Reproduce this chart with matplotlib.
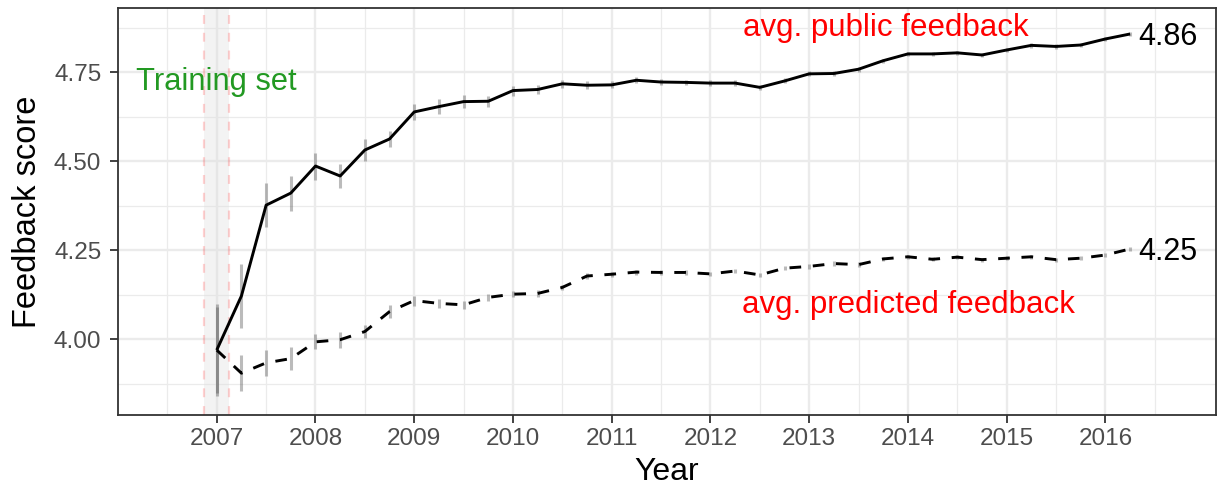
import numpy as np
import matplotlib
matplotlib.use("Agg")
import matplotlib.pyplot as plt

plt.rcParams['font.family'] = ['Liberation Sans', 'DejaVu Sans']

# quarterly time points 2007.00 .. 2016.25
years = [2007.0 + 0.25 * i for i in range(38)]

public_fb = [3.969, 4.121, 4.376, 4.410, 4.486, 4.458, 4.531, 4.562,
             4.638, 4.653, 4.667, 4.668, 4.698, 4.701, 4.717, 4.713,
             4.714, 4.727, 4.722, 4.721, 4.719, 4.719, 4.707, 4.725,
             4.745, 4.746, 4.758, 4.782, 4.801, 4.801, 4.804, 4.798,
             4.812, 4.825, 4.822, 4.826, 4.843, 4.857]
public_err = [0.13, 0.089, 0.061, 0.049, 0.038, 0.035, 0.030, 0.023,
              0.023, 0.020, 0.018, 0.016, 0.014, 0.013, 0.012, 0.011,
              0.010, 0.009, 0.009, 0.008, 0.008, 0.008, 0.008, 0.007,
              0.007, 0.007, 0.007, 0.006, 0.006, 0.006, 0.006, 0.006,
              0.006, 0.006, 0.006, 0.006, 0.006, 0.006]

pred_fb = [3.969, 3.904, 3.933, 3.945, 3.992, 3.998, 4.021, 4.077,
           4.108, 4.100, 4.096, 4.117, 4.126, 4.128, 4.145, 4.177,
           4.182, 4.188, 4.187, 4.187, 4.183, 4.191, 4.180, 4.199,
           4.204, 4.212, 4.209, 4.225, 4.231, 4.224, 4.230, 4.223,
           4.227, 4.231, 4.223, 4.227, 4.236, 4.253]
pred_err = [0.12, 0.050, 0.037, 0.033, 0.021, 0.023, 0.019, 0.019,
            0.014, 0.012, 0.011, 0.010, 0.009, 0.009, 0.008, 0.008,
            0.007, 0.007, 0.007, 0.006, 0.006, 0.006, 0.006, 0.006,
            0.006, 0.006, 0.006, 0.006, 0.006, 0.006, 0.006, 0.006,
            0.006, 0.006, 0.006, 0.006, 0.006, 0.006]

training_window = (2006.875, 2007.125)
x_ticks = list(range(2007, 2017))
y_ticks = [4.00, 4.25, 4.50, 4.75]

fig = plt.figure(figsize=(12.23, 4.91), dpi=100)
ax = fig.add_axes([118/1223, 1 - 415/491, (1216 - 118)/1223, (415 - 8)/491])

ax.set_xlim(2006.0, 2017.12)
ax.set_ylim(3.7865, 4.930)

# grid
ax.set_xticks(x_ticks)
ax.set_xticks([x + 0.5 for x in range(2006, 2017)], minor=True)
ax.set_yticks(y_ticks)
ax.set_yticks([3.875, 4.125, 4.375, 4.625, 4.875], minor=True)
ax.grid(which='major', color='#EBEBEB', linewidth=1.7, zorder=0)
ax.grid(which='minor', color='#EBEBEB', linewidth=0.9, zorder=0)
ax.set_axisbelow(True)

# training set shading
ax.axvspan(training_window[0], training_window[1], color='#DDDDDD', alpha=0.35,
           linewidth=0, zorder=1)
for xv in training_window:
    ax.axvline(xv, color='red', alpha=0.18, linestyle=(0, (4, 4)), linewidth=1.6, zorder=1)

# error bars
yrs = np.array(years)
pf = np.array(public_fb); pe = np.array(public_err)
qf = np.array(pred_fb); qe = np.array(pred_err)
ax.vlines(yrs, pf - pe, pf + pe, color='#555555', alpha=0.4, linewidth=2.2, zorder=2)
ax.vlines(yrs, qf - qe, qf + qe, color='#555555', alpha=0.4, linewidth=2.2, zorder=2)

# lines
ax.plot(yrs, pf, color='black', linewidth=2.1, zorder=3, solid_capstyle='butt')
ax.plot(yrs, qf, color='black', linewidth=2.1, zorder=3, dashes=(4, 4))

# end labels
ax.annotate(f"{public_fb[-1]:.2f}", xy=(years[-1], public_fb[-1]), xytext=(6, -7.9),
            textcoords='offset points', ha='left', va='baseline', fontsize=22, color='black')
ax.annotate(f"{pred_fb[-1]:.2f}", xy=(years[-1], pred_fb[-1]), xytext=(6, -7.9),
            textcoords='offset points', ha='left', va='baseline', fontsize=22, color='black')

# annotations
ax.text(2012.33, 4.851, "avg. public feedback", color='red', fontsize=22.5,
        ha='left', va='baseline')
ax.text(2012.32, 4.074, "avg. predicted feedback", color='red', fontsize=22.5,
        ha='left', va='baseline')
ax.text(2006.18, 4.699, "Training set", color='#229922', fontsize=22.2,
        ha='left', va='baseline')

# axes styling
for s in ax.spines.values():
    s.set_color('#333333')
    s.set_linewidth(1.3)
ax.tick_params(which='major', length=5.5, width=1.3, color='#333333',
               labelsize=17.5, labelcolor='#4D4D4D')
ax.tick_params(axis='x', which='major', pad=4)
ax.tick_params(axis='y', which='major', pad=6.5)
ax.tick_params(which='minor', length=0)
ax.set_yticklabels([f"{v:.2f}" for v in y_ticks])
ax.set_xticklabels([str(x) for x in x_ticks])
ax.set_xlabel("Year", fontsize=23, color='black', labelpad=5)
ax.set_ylabel("Feedback score", fontsize=23.5, color='black', labelpad=8)

fig.savefig("out.png", dpi=100)
